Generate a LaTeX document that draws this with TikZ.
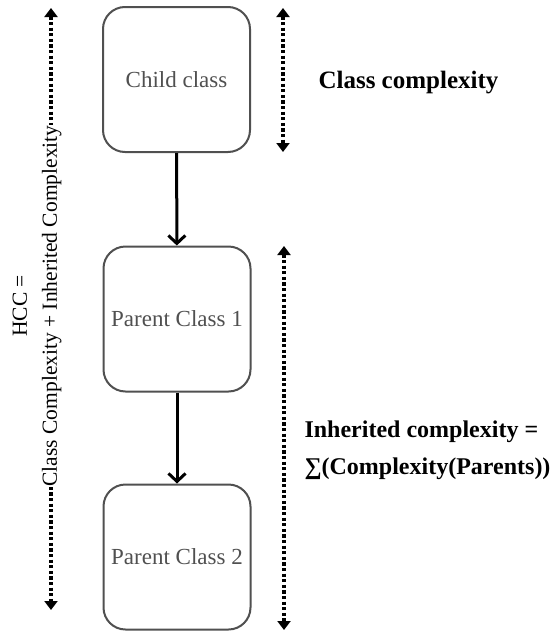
\documentclass[tikz,border=0pt]{standalone}
\usepackage{fontspec}
\setmainfont{Liberation Serif}
\usetikzlibrary{arrows.meta}
\definecolor{boxgray}{HTML}{505050}

\begin{document}
\begin{tikzpicture}[x=1pt, y=-1pt,
  classbox/.style={draw=boxgray, line width=2pt, rounded corners=22pt,
    minimum width=147pt, minimum height=145pt, text=boxgray,
    font=\fontsize{23}{27}\selectfont},
  inherit/.style={line width=3pt,
    -{Straight Barb[length=8pt, width=17pt, line width=3pt]}},
  span/.style={line width=3.5pt, dash pattern=on 3.2pt off 2.4pt,
    {Triangle[length=9pt, width=13pt]}-{Triangle[length=9pt, width=13pt]}},
  note/.style={font=\bfseries\fontsize{24}{37}\selectfont, align=left}]

\useasboundingbox (0, 0) rectangle (551, 632);

% class hierarchy
\node[classbox] (child) at (176.5, 79.5) {Child class};
\node[classbox] (parent1) at (177, 319) {Parent Class 1};
\node[classbox] (parent2) at (177, 557) {Parent Class 2};

\draw[inherit] (child) -- (parent1);
\draw[inherit] (parent1) -- (parent2);

% extents of the complexities
\coordinate (hcctop) at (51, 8);
\coordinate (hccbot) at (51, 610);
\coordinate (cctop) at (283, 8);
\coordinate (ccbot) at (283, 152);
\coordinate (ictop) at (284, 246);
\coordinate (icbot) at (284, 630);

\draw[span] (hcctop) -- (hccbot);
\draw[span] (cctop) -- (ccbot);
\draw[span] (ictop) -- (icbot);

\node[fill=white, rotate=90, align=center, inner sep=1pt,
  font=\fontsize{21.5}{30}\selectfont] (hcc) at (37, 306)
  {HCC =\\Class Complexity + Inherited Complexity};

\node[note, font=\bfseries\fontsize{25}{37}\selectfont, anchor=base west] (cc)
  at (315, 88) {Class complexity};
\node[note, anchor=base west] (ic) at (301, 474)
  {Inherited complexity =\\∑(Complexity(Parents))};

\end{tikzpicture}
\end{document}
